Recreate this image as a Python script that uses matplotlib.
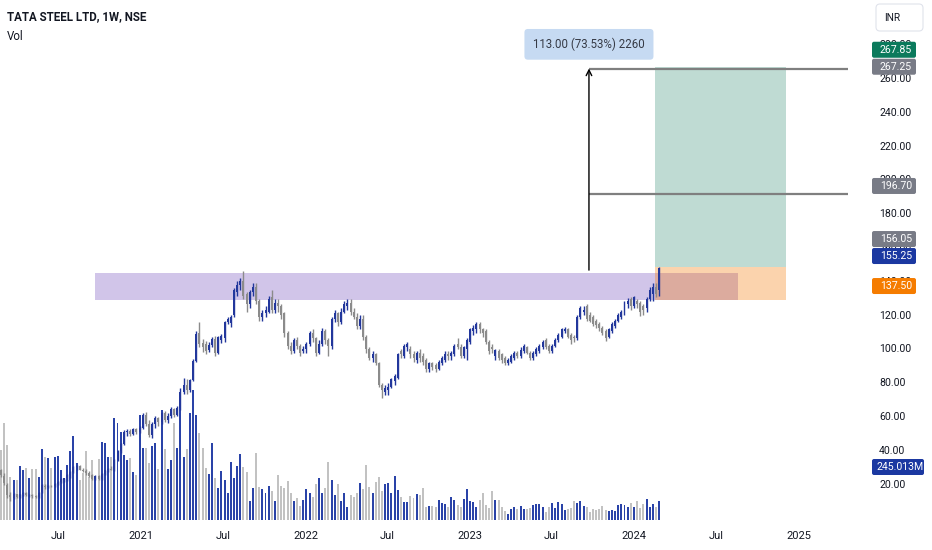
import numpy as np
import pandas as pd
import matplotlib
matplotlib.use("Agg")
import matplotlib.pyplot as plt
import matplotlib.dates as mdates
from matplotlib.patches import Rectangle, FancyBboxPatch

plt.rcParams['font.family'] = ['Roboto', 'DejaVu Sans']

# weekly candles, TATA STEEL (NSE), first bar = week of 2020-02-24
opens = [42, 39, 34, 28, 26.5, 28.5, 27, 28.5, 29.5, 28,
         28.3, 27.5, 27, 30, 33.5, 32.5, 33.5, 33, 34.5, 35.5,
         36.5, 37.5, 39.5, 41, 44, 44.5, 42.5, 41.5, 40.5, 39.5,
         37.2, 39, 37, 40, 42, 43, 42.5, 48, 53, 57,
         63.5, 64, 62.5, 65, 63.5, 66, 73, 68, 62, 68,
         71.5, 69, 74, 70, 72.5, 76.5, 73, 77, 86, 90,
         87, 92.5, 103.5, 119, 113.5, 113, 109.5, 112.5, 115.5, 108,
         115, 116, 125, 124.5, 129, 142, 146, 148, 141, 135,
         142, 145, 137, 128, 130, 131, 139, 132, 136, 134,
         130, 119, 112, 109, 115, 112, 109, 110, 113, 119,
         116, 108, 113, 120, 115, 112, 127, 130, 125, 131,
         134, 136, 131, 128, 123, 127, 117, 110, 105, 107,
         102, 90, 86, 87, 89, 92, 94, 109, 106, 111,
         110, 107, 104, 108, 106, 104, 99, 102, 101, 99,
         102, 104, 107, 106, 107, 113, 111, 106, 110, 114,
         120, 121, 124, 121, 120, 114, 111, 106, 109, 107,
         105, 102, 103, 105, 108, 106, 109, 111, 108, 105,
         107, 109, 111, 115, 112, 109, 112, 115, 117, 120,
         121, 118, 117, 116, 128, 131, 134, 129, 128, 126,
         124, 122, 120, 117, 120, 123, 126, 128, 130, 135,
         138, 134, 137, 136, 134, 133, 138, 141, 145, 143]
highs = [43, 40.5, 35, 30, 29.5, 29, 29, 30, 30, 29,
         28.8, 28, 30, 34.5, 34.5, 34, 34, 35, 36, 37.5,
         38, 40, 41.5, 44.5, 45, 45, 43.5, 43, 41.5, 40,
         39.5, 39.5, 40.5, 42.5, 43.5, 44.5, 48.5, 53.5, 57.5, 64.5,
         65, 65, 65.5, 66, 67, 74, 75, 70, 69, 72.5,
         72, 75, 75.5, 74, 77.5, 77, 78, 88, 94, 93,
         93, 104.5, 120, 125, 115.5, 114.5, 114, 116.5, 117.5, 117.5,
         118.5, 125.5, 128, 129, 144, 148, 150, 153.5, 142, 143,
         147, 147, 138, 132, 134, 140, 143, 138, 138, 135,
         131, 120, 114, 116, 117, 113, 112, 114, 120, 121,
         117, 115, 122, 121, 116, 128, 132, 131, 133, 137,
         138, 138, 133, 130, 129, 129, 118, 111, 109, 108,
         103, 91, 90, 91, 94, 96, 108, 110, 113, 114,
         112, 109, 109, 110, 108, 105, 103, 103, 102, 104,
         106, 109, 109, 109, 113, 116, 113, 112, 116, 122,
         123.5, 125, 125, 122, 121, 115, 113, 110, 110, 108,
         106, 105, 107, 109, 109, 111, 113, 112, 109, 109,
         111, 113, 115, 116, 113, 113, 116, 119, 122, 122.5,
         122, 119, 118, 129, 134, 134, 135, 131, 129, 127,
         125, 123, 121, 122, 125, 127, 130, 132, 137, 138.5,
         139, 140, 138, 137, 135, 139, 145, 147, 147, 156.05]
lows = [38.5, 34, 26.5, 25, 25.8, 26.5, 26.5, 27.5, 27.5, 27,
        26.8, 26.5, 26.5, 29.5, 31.5, 32, 32.5, 32.5, 34, 35,
        35.5, 36, 38, 40.5, 42.5, 42, 41, 39.5, 38.5, 36.5,
        36.5, 36.5, 36.5, 39.5, 41, 42, 41.5, 47, 52, 56.5,
        61.5, 61.5, 62, 62.5, 63, 65, 67, 60.5, 60, 66,
        67, 68, 69, 68.5, 71.5, 72, 72.5, 76, 85, 85,
        86, 92, 102.5, 111, 108.5, 107.5, 108.5, 111, 106, 107,
        113.5, 114, 124, 122.5, 128, 140, 143, 138, 131, 133,
        140, 135, 126, 126, 128, 130, 130, 130, 131, 127,
        117, 110, 107, 108, 110, 106, 108, 108, 112, 114,
        106, 107, 112, 113, 106, 110, 125, 123, 124, 130,
        132, 129, 127, 121, 121, 115, 108, 104, 103, 101,
        89, 82.7, 84, 84, 88, 90, 93, 105, 105, 109,
        105, 103, 102, 103, 101, 97, 97, 98, 97, 98,
        101, 103, 104, 104, 106, 110, 105, 105, 104, 113,
        118, 119, 119, 117, 113, 107, 108, 104, 104, 102,
        101, 101, 102, 104, 105, 105, 108, 107, 104, 104,
        106, 108, 110, 110, 108, 108, 111, 114, 116, 119,
        116, 113, 114, 115, 127, 129, 126, 125, 123, 122,
        120, 118, 114.5, 116, 119, 122, 125, 127, 129, 133,
        132, 133, 133, 128.5, 129, 131, 137, 137, 139, 140]
closes = [39.5, 35, 28, 27, 28.5, 27, 28.5, 29.5, 28, 28.3,
          27.5, 27, 29.5, 34, 32.5, 33.5, 33, 34.5, 35.5, 37,
          37.8, 39.5, 41, 44, 44.5, 42.5, 41.5, 40.5, 39, 37.2,
          39, 37, 40, 42, 43, 42.5, 48, 53, 57, 63.5,
          64, 62.5, 65, 63.5, 66, 73, 68, 62, 68, 71.5,
          69, 74, 70, 72.5, 76.5, 73, 77, 86, 90, 87,
          92.5, 103.5, 118.5, 113, 111, 109, 112.5, 115.5, 108, 116.5,
          117.5, 125, 127, 128, 143, 146, 148, 140, 135, 142,
          145, 137, 128, 130, 132, 138, 132, 136, 134, 129,
          119, 112, 109, 115, 112, 108, 110, 113, 119, 116,
          108, 113, 120, 115, 112, 127, 130, 125, 131, 135,
          136, 131, 128, 123, 127, 117, 110, 105, 107, 102,
          90, 87, 88, 89, 93, 95, 107, 107, 112, 113,
          107, 105, 108, 105, 103, 99, 102, 100, 99, 103,
          105, 107, 106, 108, 112, 111, 106, 111, 115, 121,
          122, 124, 121, 119, 114, 109, 110, 109.5, 105, 104,
          102, 104, 106, 108, 106, 109.5, 112, 108, 105, 108,
          110, 112, 114, 111, 109, 112, 115, 118, 121, 121,
          117, 115, 116, 128, 133, 132, 127, 126, 124, 123.5,
          122, 119, 116, 121, 124, 126, 129, 131, 136, 137,
          134, 139, 135, 131, 132, 138, 143, 145, 141, 155.25]
# weekly volume, millions
volumes = [903, 1251, 968, 555, 516, 516, 697, 645, 671, 542,
           658, 658, 555, 916, 813, 800, 671, 813, 826, 645,
           516, 710, 890, 1084, 735, 516, 606, 890, 555, 774,
           542, 787, 1006, 993, 813, 813, 1316, 1251, 1135, 839,
           774, 800, 619, 581, 1355, 929, 929, 735, 955, 993,
           658, 1419, 916, 658, 774, 1251, 929, 1509, 813, 916,
           1380, 1677, 1355, 1122, 929, 671, 593, 993, 542, 413,
           632, 516, 348, 748, 542, 697, 851, 684, 619, 245,
           413, 864, 426, 400, 348, 439, 374, 245, 581, 439,
           413, 503, 348, 245, 284, 181, 258, 400, 348, 297,
           464, 542, 348, 413, 748, 516, 323, 464, 245, 348,
           168, 323, 297, 348, 477, 400, 710, 426, 348, 490,
           555, 374, 464, 477, 348, 568, 387, 297, 232, 232,
           310, 284, 335, 323, 413, 168, 181, 181, 168, 258,
           219, 206, 168, 297, 258, 194, 168, 271, 400, 245,
           232, 168, 258, 348, 194, 155, 374, 258, 258, 168,
           116, 77, 142, 168, 142, 181, 142, 142, 155, 194,
           206, 206, 168, 103, 168, 219, 155, 232, 206, 129,
           142, 155, 245, 219, 245, 181, 168, 103, 142, 129,
           142, 181, 129, 116, 129, 116, 194, 206, 194, 168,
           219, 168, 245, 155, 206, 271, 168, 206, 168, 245.013]

# drawings on the chart
zone_start, zone_end = "2020-09-21", "2024-08-19"
zone_low, zone_high = 137.5, 152.6
pos_start, pos_end = "2024-02-17", "2024-12-03"
entry, stop, target = 156.05, 137.5, 267.85
measure_date = "2023-09-23"
measure_from, measure_to = 154.25, 267.25
mid_level = 196.70
measure_text = "113.00 (73.53%) 2260"

x_labels = ["Jul", "2021", "Jul", "2022", "Jul", "2023", "Jul", "2024", "Jul", "2025"]
x_label_dates = ["2020-07-01", "2021-01-01", "2021-07-01", "2022-01-01", "2022-07-01",
                 "2023-01-01", "2023-07-01", "2024-01-01", "2024-07-01", "2025-01-01"]
price_ticks = [280, 260, 240, 220, 200, 180, 160, 140, 120, 100, 80, 60, 40, 20]
# right-axis tags: value, colour
tags = [(137.50, "#f57c00"), (155.25, "#1b38a1"), (156.05, "#787b86"),
        (196.70, "#787b86"), (267.25, "#787b86"), (267.85, "#0b7a5c")]

UP, DOWN = "#22379c", "#8b8b8b"
VUP, VDOWN = "#2a43a8", "#c2c2c2"

W, H = 932, 550
dates = pd.date_range("2020-02-24", periods=len(closes), freq="7D")
x = mdates.date2num(dates)
o, h, l, c = map(np.array, (opens, highs, lows, closes))
up = c >= o

fig = plt.figure(figsize=(W / 100, H / 100), dpi=100)
rect = [0, 30 / H, 848 / W, 520 / H]
axv = fig.add_axes(rect)
ax = fig.add_axes(rect, sharex=axv)
ax.patch.set_alpha(0)

# volume pane
axv.bar(x, volumes, width=4.4, color=np.where(up, VUP, VDOWN), linewidth=0)
axv.set_ylim(0, 6706)
axv.axis("off")

# zones
d = lambda s: mdates.date2num(pd.Timestamp(s))
ax.add_patch(Rectangle((d(zone_start), zone_low), d(zone_end) - d(zone_start),
                       zone_high - zone_low, color="#d1c5e9", lw=0, zorder=1))
ax.add_patch(Rectangle((d(pos_start), entry), d(pos_end) - d(pos_start),
                       target - entry, color="#bfdbd3", lw=0, zorder=1))
ax.add_patch(Rectangle((d(pos_start), stop), d(pos_end) - d(pos_start),
                       entry - stop, color="#f57600", alpha=0.32, lw=0, zorder=1.5))

# candles
ax.vlines(x, l, h, colors=np.where(up, UP, DOWN), lw=1, zorder=3)
ax.bar(x, np.maximum(np.abs(c - o), 0.35), bottom=np.minimum(o, c), width=4.4,
       color=np.where(up, UP, DOWN), linewidth=0, zorder=4)

xmin = x[0] - 2.2
xmax = xmin + 848 / 3.149 * 7
ax.set_xlim(xmin, xmax)
ax.set_ylim(14.2, 305.65)

# measure arrow and levels
ax.hlines([measure_to, mid_level], d(measure_date), xmax, color="#7f7f7f", lw=1.6, zorder=2)
ax.annotate("", xy=(d(measure_date), measure_to), xytext=(d(measure_date), measure_from),
            arrowprops=dict(arrowstyle="->", color="black", lw=1, shrinkA=0, shrinkB=0,
                            mutation_scale=10), zorder=5)
ax.text(d(measure_date), 280.8, measure_text, ha="center", va="center", fontsize=8.3,
        color="#363a45", zorder=6,
        bbox=dict(boxstyle="round,pad=0.75,rounding_size=0.3", fc="#c6daf2", ec="none"))

for s in ax.spines.values():
    s.set_visible(False)
ax.yaxis.set_visible(False)
ax.set_xticks([d(s) for s in x_label_dates])
ax.set_xticklabels(x_labels)
ax.tick_params(axis="x", length=0, pad=8, labelsize=8, labelcolor="#131722")

# title
fig.text(7 / W, 1 - 17 / H, "TATA STEEL LTD, 1W, NSE", fontsize=8.3, fontweight="bold",
         color="#131722", va="center")
fig.text(7 / W, 1 - 36 / H, "Vol", fontsize=8.3, color="#131722", va="center")


# price scale labels (screenshot's scale: 260 at y=79px, 1.69 px per unit)
def label_y(v):
    return 79 + (260 - v) * 1.69


for v in price_ticks:
    fig.text(879 / W, 1 - label_y(v) / H, f"{v:.2f}", fontsize=7.6, color="#131722",
             va="center", zorder=2)

inch = fig.dpi_scale_trans


def tag(yc, text, color, x0=872, x1=916):
    fig.add_artist(FancyBboxPatch((x0 / 100, (H - yc - 8) / 100), (x1 - x0) / 100, 0.16,
                                  boxstyle="round,pad=0,rounding_size=0.02",
                                  fc=color, ec="none", transform=inch, zorder=5))
    fig.text((x0 + x1) / 2 / W + 0.002, 1 - yc / H, text, fontsize=7.6, color="white",
             ha="center", va="center", zorder=6)


prev = None
for v, col in tags:
    yc = label_y(v)
    if prev is not None:
        yc = min(yc, prev - 17)
    tag(yc, f"{v:.2f}", col)
    prev = yc

tag(467, "245.013M", "#1b38a1", 872, 924)

# currency box
fig.add_artist(FancyBboxPatch((8.76, (H - 31) / 100), 0.47, 0.27,
                              boxstyle="round,pad=0,rounding_size=0.04",
                              fc="white", ec="#e0e3eb", lw=0.8, transform=inch))
fig.text(884 / W, 1 - 18 / H, "INR", fontsize=7.3, color="#131722", va="center")

fig.savefig("out.png", dpi=100)
